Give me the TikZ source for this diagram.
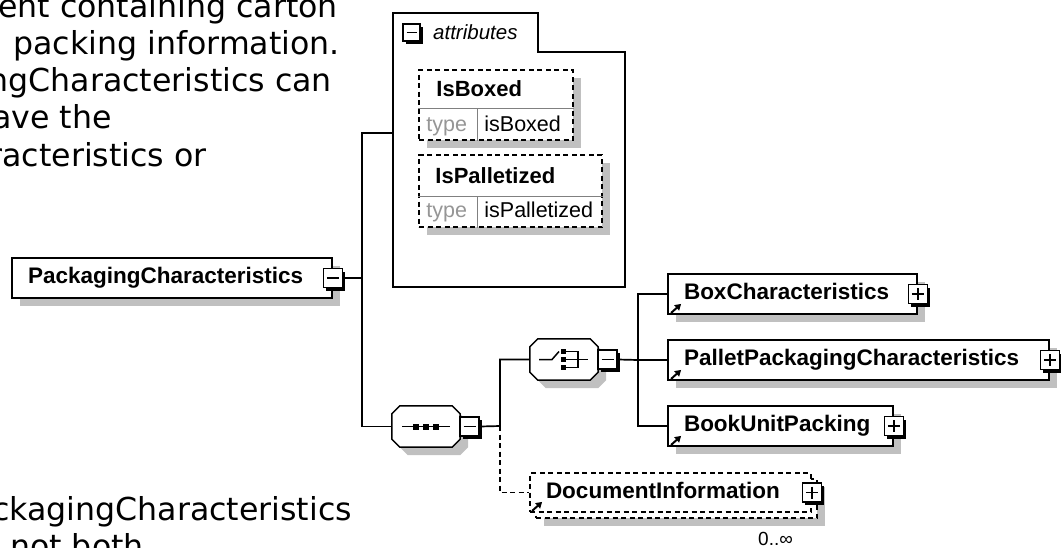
\documentclass[tikz,border=0pt]{standalone}
\usepackage{fontspec}
\setmainfont{Liberation Sans}
\newfontfamily\notefont{DejaVu Sans}
\definecolor{shadegray}{RGB}{192, 192, 192}
\definecolor{typegray}{RGB}{150, 150, 150}
\definecolor{rulegray}{RGB}{128, 128, 128}
\usetikzlibrary{arrows.meta, positioning, calc, shadows}
\tikzset{
  % Gray block shadow used under boxes.
  flat-shadow/.style={drop shadow={fill=shadegray, opacity=1,
    shadow xshift=8pt, shadow yshift=-8pt}},
  % Element box (bold name, left aligned).
  elem/.style={
    rectangle, draw=black, line width=1.8pt, fill=white,
    minimum height=40pt, inner xsep=16pt, inner ysep=0pt,
    text height=16pt, text depth=5pt, align=left,
    font=\fontsize{22.5}{27}\selectfont\bfseries,
  },
  elem-opt/.style={elem, dash pattern=on 5pt off 3.5pt},
  % Attribute box and its texts.
  attrbox/.style={
    rectangle, draw=black, line width=1.6pt, fill=white,
    dash pattern=on 5pt off 3.5pt, inner sep=0pt, flat-shadow,
  },
  attr-name/.style={font=\fontsize{22}{26}\selectfont\bfseries, inner sep=0pt},
  attr-key/.style={font=\fontsize{21.5}{26}\selectfont, text=typegray, inner sep=0pt},
  attr-val/.style={font=\fontsize{21.5}{26}\selectfont, inner sep=0pt},
  divider/.style={draw=rulegray, line width=1pt},
  % Sequence / choice compositor (frame drawn by \octoframe).
  compositor/.style={rectangle, draw=none, minimum width=68pt,
    minimum height=41pt, inner sep=0pt},
  icon/.style={line width=1.5pt},
  % Expand / collapse buttons.
  toggle/.style={
    rectangle, draw=black, line width=1.6pt, fill=white,
    minimum size=19pt, inner sep=0pt,
    drop shadow={fill=black, opacity=1, shadow xshift=3pt, shadow yshift=-3pt},
  },
  tog-minus/.style={toggle, path picture={
    \draw[line width=1.3pt] ([xshift=3.5pt]path picture bounding box.west)
      -- ([xshift=-3.5pt]path picture bounding box.east);}},
  tog-plus/.style={toggle, path picture={
    \draw[line width=1.3pt] ([xshift=3.5pt]path picture bounding box.west)
      -- ([xshift=-3.5pt]path picture bounding box.east);
    \draw[line width=1.3pt] ([yshift=-3.5pt]path picture bounding box.north)
      -- ([yshift=3.5pt]path picture bounding box.south);}},
  % Reference marker and connectors.
  ref-mark/.style={-{Triangle[length=6pt, width=7pt]}, line width=2pt},
  conn/.style={draw=black, line width=1.7pt},
  conn-opt/.style={conn, dash pattern=on 5pt off 3.5pt},
  note/.style={font=\notefont\fontsize{31.6}{37}\selectfont, inner sep=0pt},
  mult/.style={font=\fontsize{19}{22}\selectfont, inner sep=0pt},
}
% Octagon frame with its gray shadow round a compositor node.
\newcommand\octoframe[1]{%
  \fill[shadegray, transform canvas={shift={(8pt,-8pt)}}]
    ($(#1.north west)+(8,0)$) -- ($(#1.north east)+(-8,0)$)
    -- ($(#1.north east)+(0,8)$) -- ($(#1.south east)+(0,-8)$)
    -- ($(#1.south east)+(-8,0)$) -- ($(#1.south west)+(8,0)$)
    -- ($(#1.south west)+(0,-8)$) -- ($(#1.north west)+(0,8)$) -- cycle;
  \filldraw[fill=white, draw=black, line width=1.5pt]
    ($(#1.north west)+(8,0)$) -- ($(#1.north east)+(-8,0)$)
    -- ($(#1.north east)+(0,8)$) -- ($(#1.south east)+(0,-8)$)
    -- ($(#1.south east)+(-8,0)$) -- ($(#1.south west)+(8,0)$)
    -- ($(#1.south west)+(0,-8)$) -- ($(#1.north west)+(0,8)$) -- cycle;
}

\begin{document}
\begin{tikzpicture}[x=1pt, y=-1pt]

  \useasboundingbox (0,0) rectangle (1061,547);
  \clip (0,0) rectangle (1061,547);

  % Cut-off annotation text on the left.
  \node[note, anchor=base east] (note1) at (338,17.5) {ent containing carton};
  \node[note, anchor=base east] (note2) at (340,54.5) {packing information.};
  \node[note, anchor=base east] (note3) at (332,91.5) {ngCharacteristics can};
  \node[note, anchor=base east] (note4) at (112,128.5) {ave the};
  \node[note, anchor=base east] (note5) at (207,166) {racteristics or};
  \node[note, anchor=base east] (note6) at (352,520) {ckagingCharacteristics};
  \node[note, anchor=base west] (note7) at (10,557) {not both};

  % Attributes container.
  \draw[line width=1.6pt] (393,287) -- (393,13) -- (538,13) -- (538,52)
    -- (625,52) -- (625,287) -- cycle;
  \coordinate (attrin) at (393,133);
  \node[tog-minus, minimum size=17pt] (attrtog) at (411.5,32.5) {};
  \node[font=\fontsize{20.5}{24}\selectfont\itshape, inner sep=0pt,
    anchor=base west] (attrlabel) at (433,39) {attributes};

  % Attribute IsBoxed.
  \node[attrbox, minimum width=154pt, minimum height=70pt] (isboxed) at (496,105) {};
  \draw[divider] ($(isboxed.north west)+(0,39)$) -- ($(isboxed.north east)+(0,39)$);
  \draw[divider] ($(isboxed.south west)+(59,0)$) -- ($(isboxed.north west)+(59,39)$);
  \node[attr-name, anchor=base west] at ($(isboxed.north west)+(18,27)$) {IsBoxed};
  \node[attr-key, anchor=base west] at ($(isboxed.north west)+(8,62)$) {type};
  \node[attr-val, anchor=base west] at ($(isboxed.north west)+(66,62)$) {isBoxed};

  % Attribute IsPalletized.
  \node[attrbox, minimum width=183pt, minimum height=72pt] (ispallet) at (510.5,191) {};
  \draw[divider] ($(ispallet.north west)+(0,42)$) -- ($(ispallet.north east)+(0,42)$);
  \draw[divider] ($(ispallet.south west)+(59,0)$) -- ($(ispallet.north west)+(59,42)$);
  \node[attr-name, anchor=base west] at ($(ispallet.north west)+(17,29)$) {IsPalletized};
  \node[attr-key, anchor=base west] at ($(ispallet.north west)+(8,63)$) {type};
  \node[attr-val, anchor=base west] at ($(ispallet.north west)+(66,63)$) {isPalletized};

  % Root element.
  \node[elem, flat-shadow, minimum width=320pt, text width=288pt] (pc) at (172,278)
    {PackagingCharacteristics};
  \node[tog-minus] (pcm) at (pc.east) {};

  % Sequence compositor.
  \node[compositor] (seq) at (426,426.5) {};
  \octoframe{seq}
  \draw[icon] ($(seq.center)+(-24,0)$) -- ($(seq.center)+(24,0)$);
  \foreach \dx in {-10,0,10}
    \fill ($(seq.center)+(\dx-3,-3)$) rectangle ++(6,6);
  \node[tog-minus] (seqm) at ([xshift=9.5pt]seq.east) {};

  % Choice compositor.
  \node[compositor] (choice) at (564,359.5) {};
  \octoframe{choice}
  \draw[icon] ($(choice.center)+(-25,0)$) -- ($(choice.center)+(-12,0)$)
    -- ($(choice.center)+(-5,-8)$);
  \foreach \dy in {-8,0,8}
    \fill ($(choice.center)+(-3,\dy-2.5)$) rectangle ++(5,5);
  \draw[icon] ($(choice.center)+(2,-8)$) -| ($(choice.center)+(14,8)$)
    -- ($(choice.center)+(2,8)$);
  \draw[icon] ($(choice.center)+(2,0)$) -- ($(choice.center)+(24,0)$);
  \node[tog-minus] (choicem) at ([xshift=9.5pt]choice.east) {};

  % Child elements of the choice.
  \node[elem, flat-shadow, minimum width=249pt, text width=217pt] (boxc) at (792.5,294)
    {BoxCharacteristics};
  \node[elem, flat-shadow, minimum width=381pt, text width=349pt] (pallet) at (858.5,360)
    {PalletPackagingCharacteristics};
  \node[elem, flat-shadow, minimum width=225pt, text width=193pt] (book) at (780.5,426)
    {BookUnitPacking};
  \foreach \n in {boxc, pallet, book} {
    \node[tog-plus] (\n-tog) at (\n.east) {};
    \draw[ref-mark] ([shift={(4pt,2pt)}]\n.south west) -- ([shift={(14pt,11pt)}]\n.south west);
  }

  % Optional, repeating DocumentInformation.
  \node[elem-opt, flat-shadow, minimum width=281pt, minimum height=39pt,
    text width=249pt] (docback) at (676.5,498.5) {};
  \node[elem-opt, minimum width=281pt, minimum height=39pt, text width=249pt]
    (docinfo) at (670.5,492.5) {DocumentInformation};
  \node[tog-plus] (docinfo-tog) at (docinfo.east) {};
  \draw[ref-mark] ([shift={(3pt,2pt)}]docinfo.south west) -- ([shift={(13pt,11pt)}]docinfo.south west);
  \node[mult, anchor=base west] (docmult) at (758,545) {0..∞};

  % Connectors.
  \coordinate (jroot) at (362,278);
  \coordinate (jseq) at (500,426);
  \coordinate (jchoice) at (638,360);
  \draw[conn] (pcm.east) -- (jroot);
  \draw[conn] (jroot) |- (attrin);
  \draw[conn] (jroot) |- (seq.west);
  \draw[conn] (seqm.east) -- (jseq) |- (choice.west);
  \draw[conn-opt] (jseq) |- (docinfo.west);
  \draw[conn] (choicem.east) -- (jchoice);
  \draw[conn] (jchoice) |- (boxc.west);
  \draw[conn] (jchoice) -- (pallet.west);
  \draw[conn] (jchoice) |- (book.west);

\end{tikzpicture}
\end{document}
